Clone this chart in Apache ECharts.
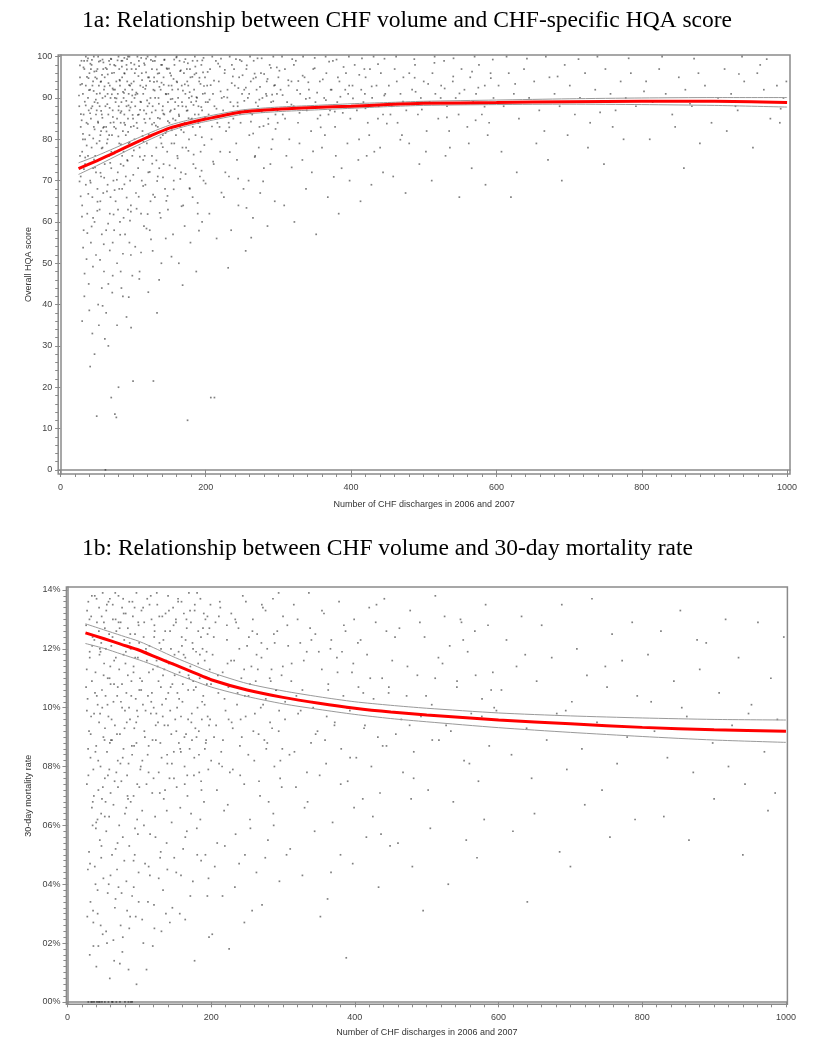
<!DOCTYPE html>
<html>
<head>
<meta charset="utf-8">
<script src="https://cdn.jsdelivr.net/npm/echarts@6/dist/echarts.min.js"></script>
<style>
html,body{margin:0;padding:0;background:#fff;}
#c{width:815px;height:1050px;}
</style>
</head>
<body>
<div id="c"></div>
<script>
// ---------- DATA ----------
const title1 = '1a: Relationship between CHF volume and CHF-specific HQA score';
const title2 = '1b: Relationship between CHF volume and 30-day mortality rate';
const xName = 'Number of CHF discharges in 2006 and 2007';
const yName1 = 'Overall HQA score';
const yName2 = '30-day mortality rate';

const xMajor = [0, 200, 400, 600, 800, 1000];
const xMinorStep = 20;
const y1Major = [0,10,20,30,40,50,60,70,80,90,100];
const y1MinorStep = 2;
const y2Major = [0,2,4,6,8,10,12,14];
const y2MinorStep = 0.2;

// fitted curves (x positions shared)
const fitX = [25,50,75,100,125,150,175,200,250,300,350,400,450,500,600,700,800,900,1000];
const fit1 = [72.9,74.8,76.8,78.9,80.9,82.7,83.9,84.9,86.6,87.3,87.7,88.0,88.4,88.7,88.9,89.1,89.2,89.2,88.9];
const up1  = [74.3,76.0,77.9,79.8,81.7,83.4,84.6,85.5,87.1,87.8,88.2,88.6,88.9,89.2,89.5,89.8,90.0,90.1,90.1];
const lo1  = [71.5,73.6,75.8,78.0,80.1,82.0,83.3,84.3,86.0,86.7,87.1,87.5,87.9,88.2,88.4,88.5,88.4,88.2,87.8];
const fit2 = [12.54,12.35,12.15,11.95,11.7,11.45,11.2,10.95,10.6,10.35,10.15,9.98,9.85,9.75,9.58,9.45,9.33,9.25,9.2];
const up2  = [12.85,12.65,12.45,12.25,11.98,11.7,11.45,11.2,10.82,10.57,10.37,10.2,10.08,9.98,9.82,9.72,9.65,9.6,9.58];
const lo2  = [12.18,12.02,11.82,11.62,11.4,11.15,10.92,10.7,10.38,10.13,9.94,9.77,9.63,9.52,9.32,9.16,9.02,8.9,8.82];

// hospitals: [discharges, HQA score]
const pts1 = [
[26,88],[27,95],[28,71],[28,83],[29,99],[30,64],[30,77],[31,91],[32,86],[32,58],[33,97],[34,74],[34,80],[35,93],[35,69],[36,84],[37,99],[37,62],[38,90],[38,76],[39,45],[39,87],[40,96],[40,81],[41,70],[41,92],[42,55],[42,85],[43,98],[43,78],[44,88],[44,66],[45,94],[45,73],[46,83],[46,100],[47,60],[47,89],[48,76],[48,95],[49,52],[49,86],[50,13],[50,91],[50,79],[51,68],[51,97],[52,84],[52,40],[53,93],[53,75],[54,88],[54,63],[55,99],[55,81],[56,71],[56,94],[57,86],[57,57],[58,90],[58,78],[59,97],[59,67],[60,83],[60,92],[60,48],
[30,36],[33,42],[36,51],[44,33],[47,28],[53,35],[57,44],[41,25],[38,99.6],[52,100],[58,99.3],[35,100],[45,61],[49,72],[55,65],[31,80],[27,76],[42,97],[50,87],[56,82],
[61,95],[61,74],[62,0],[62,88],[63,83],[63,58],[64,97],[64,79],[65,91],[65,69],[66,86],[66,45],[67,99],[67,76],[68,93],[68,62],[69,84],[69,90],[70,17.5],[70,73],[71,96],[71,81],[72,87],[72,55],[73,92],[73,70],[74,98],[74,83],[75,13.5],[75,77],[76,89],[76,65],[77,12.7],[77,94],[78,85],[78,50],[79,91],[79,72],[80,20],[80,87],[81,97],[81,79],[82,60],[82,93],[83,84],[83,74],[84,99],[84,89],[85,68],[85,95],[86,82],[86,42],[87,90],[87,77],[88,96],[88,86],[89,57],[89,92],[90,81],[90,71],[91,98],[91,88],[92,75],[92,94],[93,63],[93,85],[94,91],[94,79],[95,100],[95,87],[96,70],[96,93],[97,83],[97,52],[98,97],[98,89],[99,76],[99,92],[100,21.5],[100,85],
[63,38],[66,30],[72,47],[78,35],[84,44],[91,37],[95,55],[70,99.4],[80,100],[88,99.7],[93,100],[65,80],[75,90],[85,76],[97,64],[69,66],[74,58],[81,68],[87,61],[99,47],
[101,94],[102,80],[103,88],[104,67],[104,97],[105,84],[106,91],[107,73],[108,99],[108,86],[109,78],[110,93],[111,62],[111,89],[112,96],[113,82],[114,75],[114,91],[115,87],[116,98],[117,69],[117,84],[118,93],[119,79],[120,100],[120,88],[121,72],[122,95],[123,85],[123,58],[124,90],[125,81],[126,97],[126,76],[127,88],[128,21.5],[128,92],[129,84],[130,66],[130,99],[131,87],[132,78],[133,94],[134,83],[134,71],[135,90],[136,96],[137,85],[138,61],[138,92],[139,79],[140,98],[141,88],[142,74],[142,95],[143,86],[144,68],[145,91],[146,82],[147,97],[147,77],[148,89],[149,93],[150,84],
[103,54],[109,48],[115,59],[121,43],[127,53],[133,38],[139,50],[145,56],[106,100],[118,99.5],[131,100],[143,99.2],[112,70],[124,65],[136,73],[148,63],[102,90],[116,76],[129,95],[141,81],
[151,96],[152,87],[153,79],[154,92],[155,85],[156,70],[157,98],[158,89],[159,81],[160,94],[161,76],[162,90],[163,86],[164,99],[165,83],[166,72],[167,93],[168,88],[169,64],[170,96],[171,84],[172,91],[173,78],[174,97],[175,12],[175,87],[176,93],[177,80],[178,68],[179,95],[180,89],[181,85],[182,99],[183,74],[184,92],[185,86],[186,81],[187,96],[188,90],[189,62],[190,88],[191,94],[192,83],[193,77],[194,98],[195,87],[196,91],[197,70],[198,85],[199,95],[200,89],
[155,57],[163,50],[171,59],[179,55],[187,48],[195,60],[160,100],[172,99.4],[185,100],[197,99.7],[158,73],[168,78],[182,66],[192,71],[153,93],[177,90],
[202,93],[204,86],[206,97],[207,17.5],[208,80],[210,91],[212,17.5],[212,88],[214,99],[216,84],[218,94],[220,77],[222,90],[224,87],[226,96],[228,82],[230,92],[232,71],[234,89],[236,98],[238,85],[240,93],[242,79],[244,88],[246,95],[248,84],[250,91],[252,68],[254,87],[256,97],[258,90],[260,81],[262,94],[264,86],[266,99],[268,76],[270,92],[272,88],[274,83],[276,96],[278,90],[280,73],[282,87],[284,94],[286,85],[288,98],[290,89],[292,80],[294,93],[296,86],[298,91],[300,95],
[205,62],[215,56],[225,66],[235,58],[245,64],[255,53],[265,61],[275,67],[285,59],[295,65],[209,100],[221,99.5],[233,100],[247,99.2],[261,100],[277,99.6],[293,100],[211,74],[227,72],[243,75],[259,70],[273,78],[289,74],[203,89],[219,83],[239,97],[253,92],[269,95],[283,91],[299,84],
[303,92],[306,86],[309,97],[312,89],[315,80],[318,94],[321,88],[324,99],[327,84],[330,91],[333,75],[336,95],[339,87],[342,92],[345,82],[348,97],[351,89],[354,85],[357,94],[360,78],[363,90],[366,96],[369,86],[372,92],[375,99],[378,83],[381,89],[384,94],[387,73],[390,88],[393,96],[396,91],[399,85],[402,93],[405,98],[408,87],[411,80],[414,92],[417,89],[420,95],[423,84],[426,97],[429,90],[432,77],[435,93],[438,88],[441,96],[444,86],[447,91],
[308,64],[322,60],[338,68],[352,57],[368,66],[383,62],[398,70],[413,65],[428,69],[444,72],[305,100],[319,99.4],[334,100],[350,99.7],[365,100],[380,99.3],[397,100],[415,99.6],[431,100],[446,99.5],[311,76],[329,79],[346,72],[364,81],[379,76],[395,79],[410,75],[425,81],[440,78],[314,93],[343,90],[371,87],[392,92],[419,91],[437,85],
[452,93],[456,88],[460,97],[464,84],[468,91],[472,95],[476,87],[480,79],[484,92],[488,98],[492,86],[496,90],[500,94],[504,82],[508,89],[512,96],[516,91],[520,85],[524,93],[528,99],[532,88],[536,78],[540,94],[544,90],[548,86],[552,97],[556,92],[560,83],[564,95],[568,89],[572,91],[576,98],[580,86],[584,93],[588,81],[592,96],[596,90],
[458,71],[475,67],[494,74],[511,70],[530,76],[549,66],[566,73],[585,69],[462,100],[487,99.4],[515,100],[541,99.6],[570,100],[595,99.3],[470,81],[503,77],[535,82],[562,79],[590,84],
[603,93],[610,88],[617,96],[624,91],[631,85],[638,97],[645,90],[652,94],[659,87],[666,82],[673,95],[680,91],[687,88],[694,98],[701,93],[708,86],[715,90],[722,96],[729,84],[736,92],[743,89],[750,97],[757,91],[764,87],[771,94],[778,90],[785,96],[792,88],
[607,77],[628,72],[655,79],[671,75],[698,81],[726,78],[748,74],[775,80],[614,100],[642,99.5],[668,100],[713,99.4],[739,100],[782,99.6],[620,66],[690,70],[760,83],
[806,94],[815,89],[824,97],[833,91],[842,86],[851,95],[860,92],[869,88],[878,96],[887,93],[896,84],[905,90],[914,97],[923,91],[932,87],[941,94],[950,89],[959,96],[968,92],[977,85],[986,93],[995,90],
[811,80],[846,83],[880,79],[917,82],[953,78],[990,84],[828,100],[872,99.5],[938,100],[972,99.4],[858,73],[929,88],[963,98],[999,94]
];
const pts1b = [
[27.5,93.2],[29.3,84.6],[31.8,97.4],[33.6,89.1],[36.2,78.5],[38.7,94.8],[40.9,86.3],[43.4,99.2],[45.8,91.7],[47.1,82.4],[49.6,96.5],[51.3,88.8],[53.9,79.6],[55.4,93.9],[57.8,85.2],[59.2,98.6],[61.7,90.4],[63.5,81.9],[65.2,95.7],[67.8,87.6],[69.4,99.5],[71.9,92.3],[73.3,84.1],[75.7,97.8],[77.2,89.9],[79.8,80.7],[81.4,94.4],[83.9,86.8],[85.3,99.0],[87.6,91.2],[89.1,83.5],[91.5,96.9],[93.8,88.2],[95.2,79.3],[97.7,93.5],[99.4,85.9],[101.8,98.1],[103.3,90.8],[105.9,82.7],[107.4,95.3],[109.7,87.1],[111.2,99.7],[113.8,92.6],[115.5,84.9],[117.9,96.2],[119.3,89.4],[121.6,81.2],[123.2,94.1],[125.8,86.5],[127.3,98.9],[129.7,91.8],[131.4,83.3],[133.9,95.9],[135.5,88.6],[137.8,80.4],[139.2,93.7],[141.7,86.2],[143.3,99.3],[145.6,90.9],[147.9,84.4],[149.4,97.1],[151.8,89.7],[153.3,82.2],[155.7,94.6],[157.2,87.3],[159.6,99.8],[161.9,92.1],[163.4,85.6],[165.8,96.7],[167.3,89.0],[169.7,81.7],[171.2,93.3],[173.8,86.9],[175.4,98.4],[177.9,91.4],[179.3,84.8],[181.6,95.1],[183.2,88.3],[185.7,97.6],[187.3,90.2],[189.8,83.9],[191.4,94.9],[193.9,87.8],[195.3,99.1],[197.6,92.9],[199.2,85.4],
[202.7,96.3],[205.3,89.6],[208.6,83.1],[211.4,94.2],[214.8,87.4],[217.1,98.3],[220.5,91.6],[223.9,85.7],[226.3,96.8],[229.7,90.1],[232.4,82.9],[235.8,93.6],[238.2,88.0],[241.6,99.4],[244.9,92.4],[247.3,86.1],[250.7,95.5],[253.1,89.3],[256.5,97.9],[259.8,91.0],[262.2,84.3],[265.6,94.7],[268.9,88.9],[271.3,99.6],[274.7,92.7],[277.1,86.6],[280.4,95.8],[283.8,90.5],[286.2,83.7],[289.6,97.3],[292.9,89.2],[295.3,93.1],[298.7,87.0],
[301.4,96.6],[305.8,90.7],[309.2,85.0],[313.6,94.3],[317.9,88.4],[321.3,98.0],[325.7,91.9],[329.1,86.4],[333.4,95.4],[337.8,89.8],[341.2,93.8],[345.6,87.7],[349.9,97.2],[353.3,91.3],[357.7,85.8],[361.1,94.5],[365.4,89.5],[369.8,98.8],[373.2,92.0],[377.6,86.7],[381.9,95.0],[385.3,90.3],[389.7,97.5],[393.1,88.1],[397.4,93.0],
[402.6,89.9],[411.3,95.6],[419.8,87.5],[428.4,92.8],[437.1,98.2],[445.7,90.6],[454.2,86.0],[462.9,94.0],[471.5,89.1],[480.1,96.0],[488.8,91.5],[497.4,87.2],[506.1,93.4],[514.7,98.5],[523.3,90.0],[531.9,85.3],[540.6,95.2],[549.2,91.1],[557.8,88.7],[566.5,96.4],[575.1,92.5],[583.7,87.9],[592.3,94.8],
[27.9,66.2],[32.4,72.8],[37.1,57.3],[41.6,69.5],[46.3,75.1],[50.8,62.7],[55.2,71.9],[59.7,54.6],[64.1,67.4],[68.6,74.3],[73.2,61.8],[77.7,70.2],[82.3,56.9],[86.8,73.6],[91.2,65.9],[95.8,60.3],[100.3,71.4],[104.9,63.2],[109.4,75.8],[113.9,68.7],[118.5,58.4],[122.9,72.1],[127.6,66.6],[132.1,74.9],[136.7,62.2],[141.2,70.8],[145.8,65.1],[150.3,73.7],[155.9,67.9],[161.4,75.4],[166.8,63.8],[172.3,71.6],[177.8,68.2],[183.4,76.3],[188.9,64.6],[194.3,72.4],[199.8,69.3],[210.2,74.6],[221.7,67.1],[233.1,76.9],[244.6,70.5],[256.1,63.4],[267.5,75.7],[279.0,69.8],[290.4,77.6],[318.3,73.2],[347.7,77.1],[376.2,70.9],[421.5,76.0],[467.8,79.9],
[33.3,47.5],[39.8,38.6],[54.6,50.8],[61.2,31.7],[71.4,42.9],[86.1,52.3],[97.3,34.4],[108.6,46.2],[124.7,55.8],[152.9,51.6],[168.2,44.7],[190.7,57.9],[230.9,48.9],[262.6,56.2]
];
const pts1c = [
[25.6,90.6],[26.9,97.9],[28.2,86.1],[29.8,93.4],[31.1,81.3],[32.7,99.0],[34.9,88.2],[36.6,95.1],[37.9,83.7],[39.4,91.9],[41.3,98.3],[42.5,87.5],[44.1,93.0],[45.2,80.2],[46.7,96.4],[48.8,89.6],[50.2,94.7],[51.7,84.3],[52.9,98.8],[54.4,91.1],[56.1,86.9],[57.3,95.6],[58.9,82.8],[60.8,92.8],[62.3,97.3],[64.6,88.5],[66.2,93.6],[67.1,81.0],[68.3,98.1],[70.8,90.9],[72.2,85.4],[73.9,96.1],[75.1,92.0],[76.3,82.6],[78.7,99.1],[80.3,88.0],[81.9,94.2],[82.8,86.4],[84.6,97.6],[86.2,91.5],[87.9,84.0],[88.4,95.9],[90.7,89.3],[91.8,99.4],[93.2,81.8],[94.6,93.1],[96.4,87.7],[97.2,98.5],[98.9,90.6],[100.9,83.2],[102.4,96.0],[104.5,91.3],[106.6,85.9],[108.3,97.7],[110.1,89.1],[112.4,94.3],[113.1,80.8],[115.2,98.4],[116.8,92.2],[118.2,86.2],[120.6,95.0],[122.3,88.7],[124.6,99.2],[126.1,83.6],[128.8,93.9],[130.4,90.0],[132.7,96.9],[134.2,85.2],[136.3,92.7],[138.6,98.0],[140.4,87.0],[142.2,93.2],[144.7,81.5],[146.3,97.2],[148.5,91.0],[150.8,86.7],[152.4,95.4],[154.2,89.8],[156.6,99.3],[158.4,84.6],[160.7,93.8],[162.3,88.1],[164.8,96.5],[166.2,82.3],[168.6,91.8],[170.3,98.7],[172.9,87.9],[174.6,94.0],[176.4,85.1],[178.3,97.0],[180.7,90.4],[182.2,83.0],[184.6,95.7],[186.9,89.2],[188.4,99.0],[190.2,86.0],[192.8,93.4],[194.6,80.5],[196.3,96.2],[198.9,91.1],
[206.8,93.1],[213.2,85.5],[219.4,97.6],[225.1,90.3],[231.6,84.0],[237.3,95.2],[243.8,88.9],[249.4,98.9],[255.2,92.5],[261.7,86.3],[267.3,95.9],[273.8,89.6],[279.5,83.2],[285.1,94.6],[291.4,90.8],[297.8,97.4],
[265.3,81.4],[296.1,82.5],[327.4,94.1],[358.2,82.9],[388.6,86.4],[418.3,97.0],[449.2,83.8],[487.5,94.9],[528.8,92.3],[571.4,84.6],[625.8,93.4],[684.2,95.2],[742.7,86.5],[803.1,91.6],[866.4,88.6],[933.7,95.8],[991.2,87.4],
[26.4,69.8],[29.7,61.3],[34.2,75.6],[38.4,66.8],[43.0,58.9],[47.7,73.2],[51.1,64.9],[56.8,77.8],[60.3,70.7],[65.7,59.6],[70.1,77.0],[74.6,67.7],[79.3,63.0],[83.4,78.8],[88.1,69.1],[92.5,74.8],[97.0,62.5],[101.1,77.3],[107.8,66.1],[114.4,79.4],[120.1,61.9],[126.4,74.1],[133.2,69.9],[140.9,78.1],[147.4,66.3],[156.7,79.0],[165.0,70.4],[176.2,77.2],[186.1,73.0],[198.1,78.6],
[31.3,53.8],[44.8,49.2],[58.1,39.7],[68.0,53.1],[83.0,48.0],[94.1,41.8],[111.0,52.6],[135.9,46.0]
];

// hospitals: [discharges, 30-day mortality %]
const pts2 = [
[26,12.8],[27,7.4],[28,10.3],[29,13.6],[30,5.1],[30,9.2],[31,11.7],[32,3.4],[32,8.3],[33,13.1],[34,6.6],[34,10.9],[35,12.4],[36,2.7],[36,7.9],[37,9.8],[38,13.8],[38,4.6],[39,11.2],[40,8.7],[40,6.1],[41,12.9],[42,10.1],[42,3.0],[43,7.2],[44,13.4],[44,9.5],[45,5.5],[46,11.9],[46,8.0],[47,12.2],[48,6.9],[48,10.6],[49,2.3],[49,13.9],[50,9.0],[50,4.2],[51,11.5],[52,7.6],[52,12.7],[53,10.4],[54,5.8],[54,13.3],[55,8.5],[56,3.7],[56,11.0],[57,9.7],[58,6.3],[58,12.5],[59,13.7],[60,7.1],[60,10.8],
[29,0],[33,0],[37,0],[41,0],[45,0],[48,0],[52,0],[57,0],[31,1.6],[43,1.9],[55,2.0],[39,4.0],[47,4.9],[35,6.0],[53,6.8],[27,9.9],[45,12.0],[59,8.8],
[61,12.1],[62,8.9],[62,5.0],[63,13.5],[64,10.2],[64,6.7],[65,11.6],[66,3.2],[66,9.4],[67,13.0],[68,7.8],[68,12.6],[69,4.5],[70,10.7],[70,8.2],[71,13.8],[72,6.0],[72,11.3],[73,9.1],[74,12.9],[74,2.6],[75,7.5],[76,10.0],[76,13.4],[77,5.6],[78,11.8],[78,8.6],[79,12.3],[80,6.4],[80,9.9],[81,13.2],[82,4.1],[82,10.5],[83,7.7],[84,12.7],[84,11.1],[85,8.1],[86,5.3],[86,13.6],[87,9.6],[88,12.0],[88,6.8],[89,10.9],[90,3.6],[90,8.4],[91,13.1],[92,11.4],[92,7.0],[93,9.3],[94,12.5],[94,5.9],[95,10.3],[96,13.9],[96,8.8],[97,6.2],[98,11.7],[98,9.7],[99,12.8],[100,7.3],[100,10.6],
[63,0],[68,0],[73,0],[80,0],[88,0],[90,0],[65,1.4],[77,2.2],[85,1.1],[95,2.9],[71,3.9],[83,3.1],[99,4.4],[67,5.2],[92,4.8],
[101,11.0],[102,8.0],[103,13.3],[104,6.5],[105,10.1],[106,12.4],[107,9.2],[108,4.7],[109,11.9],[110,7.4],[111,13.7],[112,10.4],[113,8.7],[114,12.1],[115,5.7],[116,9.8],[117,13.0],[118,7.1],[119,11.3],[120,10.0],[121,12.8],[122,6.3],[123,8.9],[124,11.6],[125,13.5],[126,9.5],[127,7.8],[128,12.2],[129,4.9],[130,10.7],[131,8.3],[132,13.1],[133,11.1],[134,6.9],[135,9.4],[136,12.6],[137,10.3],[138,5.4],[139,8.1],[140,13.8],[141,11.5],[142,7.6],[143,9.9],[144,12.0],[145,6.1],[146,10.8],[147,13.4],[148,8.5],[149,11.8],[150,9.6],
[104,2.8],[112,3.4],[121,2.5],[133,3.8],[146,3.2],[110,1.1],[127,4.2],[139,4.5],
[151,12.9],[152,7.3],[153,10.5],[154,13.6],[155,8.8],[156,11.2],[157,6.6],[158,9.7],[159,12.4],[160,10.2],[161,5.2],[162,13.2],[163,8.0],[164,11.7],[165,9.1],[166,12.7],[167,7.0],[168,10.6],[169,13.9],[170,8.6],[171,11.4],[172,6.4],[173,9.8],[174,12.2],[175,10.9],[176,7.7],[177,13.3],[178,9.3],[179,11.9],[180,5.9],[181,10.0],[182,12.6],[183,8.4],[184,11.0],[185,13.7],[186,7.5],[187,9.6],[188,12.0],[189,10.4],[190,6.8],[191,11.6],[192,13.0],[193,8.9],[194,10.8],[195,12.5],[196,7.9],[197,9.4],[198,11.3],[199,13.5],[200,8.2],
[158,4.3],[171,3.6],[186,4.8],[197,2.2],[164,5.6],[192,5.0],
[202,11.8],[204,9.0],[206,12.9],[208,7.2],[210,10.5],[212,13.6],[214,8.5],[216,11.2],[218,6.5],[220,9.9],[222,12.3],[224,10.7],[226,7.8],[228,13.2],[230,9.3],[232,11.6],[234,5.7],[236,10.1],[238,12.7],[240,8.7],[242,11.0],[244,13.8],[246,7.4],[248,9.7],[250,12.1],[252,10.4],[254,6.2],[256,11.4],[258,13.0],[260,8.2],[262,10.9],[264,12.5],[266,9.1],[268,7.0],[270,11.7],[272,13.4],[274,8.9],[276,10.3],[278,12.0],[280,6.8],[282,9.5],[284,11.3],[286,13.7],[288,8.0],[290,10.6],[292,12.6],[294,9.2],[296,7.6],[298,11.1],[300,13.1],
[205,4.6],[219,5.3],[233,3.9],[247,5.0],[263,4.4],[279,5.5],[295,4.1],[225,1.8],[257,3.1],[287,6.0],[211,8.1],[241,9.6],[269,10.0],[299,8.6],
[303,10.2],[306,12.8],[309,8.4],[312,11.5],[315,13.5],[318,7.3],[321,9.8],[324,12.2],[327,10.6],[330,6.6],[333,11.9],[336,13.9],[339,8.8],[342,10.0],[345,12.5],[348,9.2],[351,7.7],[354,11.3],[357,13.2],[360,8.1],[363,10.8],[366,12.0],[369,6.1],[372,9.5],[375,11.7],[378,13.6],[381,8.6],[384,10.4],[387,12.6],[390,7.5],[393,9.9],[396,11.2],[399,13.0],[402,8.3],[405,10.7],[408,12.3],[411,6.9],[414,9.4],[417,11.8],[420,13.4],[423,8.0],[426,10.3],[429,12.9],[432,9.0],[435,7.1],[438,11.0],[441,13.7],[444,8.7],[447,10.5],
[310,5.2],[327,4.3],[344,5.8],[362,3.5],[380,5.0],[397,4.7],[416,5.6],[433,3.9],[449,5.3],[352,2.9],[425,6.3],[388,1.5],
[452,11.6],[457,9.1],[462,12.7],[467,7.8],[472,10.4],[477,13.3],[482,8.5],[487,11.1],[492,9.7],[497,12.4],[502,7.2],[507,10.1],[512,13.8],[517,8.9],[522,11.5],[527,9.4],[532,12.1],[537,6.8],[542,10.7],[547,13.0],[552,8.2],[557,11.9],[562,9.8],[567,12.6],[572,7.5],[577,10.3],[582,13.5],[587,8.7],[592,11.2],[597,9.9],
[460,5.4],[480,4.6],[505,5.9],[530,4.0],[555,5.5],[580,6.2],[495,3.1],[570,4.9],
[604,10.6],[611,12.3],[618,8.4],[625,11.4],[632,13.1],[639,9.3],[646,7.6],[653,10.9],[660,12.8],[667,8.9],[674,11.7],[681,9.8],[688,13.5],[695,7.9],[702,10.2],[709,12.0],[716,8.6],[723,11.1],[730,13.7],[737,9.5],[744,7.2],[751,10.7],[758,12.5],[765,8.1],[772,11.6],[779,9.0],[786,12.9],[793,10.4],
[620,5.8],[650,6.4],[685,5.1],[720,6.7],[755,5.6],[790,6.2],[640,3.4],[700,4.6],
[808,11.8],[817,9.2],[826,12.6],[835,8.3],[844,10.9],[853,13.3],[862,9.7],[871,7.8],[880,11.3],[889,12.2],[898,8.8],[907,10.5],[916,13.0],[925,9.4],[934,11.7],[943,7.4],[952,10.1],[961,12.9],[970,8.5],[979,11.0],[988,9.6],[997,12.4],
[830,6.3],[865,5.5],[900,6.9],[940,5.0],[975,6.5],[855,10.0],[920,8.0],[985,7.1]
];
const pts2b = [
[26.8,11.3],[28.7,8.6],[30.6,13.0],[32.9,9.7],[34.4,12.1],[36.7,7.0],[38.3,10.5],[40.5,13.7],[42.8,8.2],[44.6,11.8],[46.9,6.4],[48.4,10.0],[50.7,12.9],[52.2,9.3],[54.8,13.5],[56.3,7.7],[58.6,11.0],[60.4,8.9],[62.7,12.4],[64.8,10.8],[66.5,13.9],[68.9,9.1],[70.3,7.3],[72.6,12.7],[74.4,10.2],[76.9,8.3],[78.2,13.2],[80.7,11.5],[82.5,9.5],[84.3,6.9],[86.6,12.2],[88.8,10.4],[90.4,13.6],[92.7,8.7],[94.3,11.7],[96.8,9.9],[98.5,12.9],[101.4,7.9],[103.8,10.9],[105.3,13.4],[107.7,9.0],[109.2,12.0],[111.6,8.4],[113.4,11.2],[115.9,13.8],[117.5,10.5],[119.8,7.6],[121.3,12.6],[123.7,9.8],[125.4,11.4],[127.8,13.1],[129.3,8.8],[131.7,10.1],[133.5,12.3],[135.8,7.2],[137.4,11.6],[139.9,9.4],[141.2,13.3],[143.6,10.7],[145.3,8.1],[147.7,12.8],[149.2,11.1],[151.5,9.2],[153.9,13.7],[155.4,10.3],[157.8,8.5],[159.3,12.1],[161.7,11.8],[163.2,7.4],[165.6,13.0],[167.9,9.6],[169.4,11.0],[171.8,12.9],[173.3,8.9],[175.7,10.6],[177.2,13.5],[179.6,9.0],[181.9,11.5],[183.4,7.8],[185.8,12.4],[187.4,10.2],[189.7,13.2],[191.2,8.6],[193.6,11.9],[195.1,9.7],[197.5,12.7],[199.8,10.8],
[203.6,12.4],[206.9,9.4],[209.3,11.1],[212.7,13.4],[215.2,8.0],[218.6,10.3],[221.9,12.8],[224.3,9.6],[227.7,11.6],[230.1,7.9],[233.5,13.0],[236.8,10.5],[239.2,12.0],[242.6,9.0],[245.9,11.3],[248.3,13.6],[251.7,8.4],[254.1,10.8],[257.4,12.6],[260.8,9.8],[263.2,11.8],[266.6,7.5],[269.9,12.2],[272.3,10.1],[275.7,13.3],[278.1,8.8],[281.5,11.0],[284.8,9.3],[287.2,12.5],[290.6,10.6],[293.9,13.9],[296.3,8.2],[299.7,11.4],
[302.8,9.6],[307.2,12.1],[311.5,10.9],[315.9,8.5],[320.3,13.0],[324.6,9.9],[328.9,11.6],[333.3,7.8],[337.7,12.7],[341.1,10.2],[345.4,9.1],[349.8,11.9],[354.2,13.3],[358.5,8.9],[362.9,10.6],[367.2,12.3],[371.6,9.4],[375.9,11.2],[380.3,7.4],[384.7,12.8],[389.1,10.0],[393.4,8.3],[397.8,11.5],
[404.2,12.2],[412.8,9.3],[421.4,11.0],[430.1,13.5],[438.7,8.7],[447.3,10.7],[455.9,12.4],[464.6,9.6],[473.2,11.4],[481.8,7.6],[490.5,12.9],[499.1,10.4],[507.7,8.9],[516.3,11.7],[524.9,13.1],[533.6,9.2],[542.2,10.9],[550.8,12.3],[559.4,8.1],[568.1,11.1],[576.7,9.7],[585.3,12.8],[593.9,10.0],
[28.4,4.5],[35.6,3.1],[39.5,5.9],[46.2,2.6],[51.9,6.3],[57.4,4.0],[63.9,2.1],[69.7,5.4],[75.3,3.7],[81.8,6.6],[87.2,2.9],[93.6,5.0],[99.1,3.4],[106.4,6.0],[114.7,4.3],[122.5,5.6],[130.8,2.4],[138.2,6.5],[148.6,4.9],[156.3,3.0],[166.1,5.8],[174.5,4.1],[184.9,6.2],[194.7,3.6],[208.4,5.4],[223.1,6.7],[238.9,4.7],[254.6,5.9],[270.8,3.3],[286.5,6.4],[304.9,5.0],[334.2,6.8],[366.8,4.4],[398.9,6.6],[436.4,5.7],[478.3,6.9],
[40.2,1.2],[58.9,0.8],[76.4,1.7],[96.1,0.6],[118.7,1.9],[142.5,2.7],[176.9,1.4],[201.5,2.3]
];
const pts2c = [
[25.9,10.7],[27.3,13.3],[29.1,7.7],[30.9,11.9],[32.3,9.1],[33.9,13.8],[35.2,6.8],[37.4,12.3],[38.9,8.5],[40.8,10.4],[41.8,6.2],[43.7,12.6],[45.4,9.8],[47.6,13.1],[49.2,7.3],[50.3,11.1],[51.6,8.9],[53.4,12.0],[55.7,10.1],[57.1,13.6],[58.2,7.9],[59.6,11.4],[61.4,9.6],[63.2,13.0],[65.6,7.5],[67.3,11.7],[69.2,10.4],[71.1,12.9],[73.7,8.1],[75.9,10.8],[77.5,13.7],[79.4,9.3],[81.2,11.9],[83.6,7.0],[85.7,10.0],[87.4,12.5],[89.6,8.7],[91.9,11.2],[93.4,13.4],[95.7,9.5],[97.1,7.4],[99.8,12.2],[102.6,10.6],[104.2,8.2],[106.8,12.9],[108.7,9.9],[110.5,11.6],[112.9,7.8],[114.2,13.5],[116.6,10.2],[118.4,8.9],[120.7,12.4],[122.8,9.4],[124.3,13.9],[126.7,10.9],[128.5,7.1],[130.2,12.0],[132.6,9.7],[134.8,11.3],[136.5,13.2],[138.7,8.4],[140.3,10.5],[142.8,12.6],[144.5,9.1],[146.6,11.5],[148.2,7.6],[150.9,13.0],[152.6,10.0],[154.7,11.9],[156.9,8.6],[158.7,13.6],[160.5,10.8],[162.8,9.0],[164.4,12.3],[166.7,7.7],[168.5,11.1],[170.6,13.3],[172.4,9.5],[174.8,12.0],[176.5,8.3],[178.7,10.7],[180.4,13.9],[182.8,9.2],[184.3,11.8],[186.5,7.2],[188.6,12.7],[190.9,10.1],[192.5,8.8],[194.8,13.1],[196.7,11.0],[198.5,9.6],
[204.4,10.9],[210.7,13.1],[216.4,8.9],[222.8,11.5],[228.5,9.5],[234.7,12.9],[240.4,7.7],[246.8,10.4],[252.5,12.4],[258.7,9.2],[264.9,11.3],[270.5,13.5],[276.7,8.6],[282.9,10.9],[288.4,12.2],[294.6,9.9],[298.2,7.3],
[318.6,10.4],[339.5,12.3],[360.8,9.7],[382.1,11.9],[411.7,10.5],[443.9,12.6],[476.2,9.4],[511.8,11.0],[548.4,12.9],[589.7,10.6],[637.1,11.8],[693.5,9.9],[748.6,11.4],[812.4,10.2],[876.3,12.3],[947.9,9.8],
[27.6,2.9],[31.4,4.7],[36.1,1.9],[41.9,3.8],[47.3,5.3],[53.8,2.4],[59.9,4.3],[66.9,3.5],[72.9,1.3],[79.1,4.8],[86.0,2.5],[92.2,3.9],[98.0,5.7],[105.6,2.0],[113.0,4.6],[120.4,3.3],[129.8,5.1],[137.0,3.0],[151.4,4.4],[163.9,2.8],[180.6,5.0],[196.3,4.2],[215.8,3.6],[246.2,2.7],[275.3,4.9],
[34.7,0],[43.3,0],[61.8,0],[84.8,0]
];

// ---------- CHART ----------
const AX = '#8a8a8a';
const LBL = '#444';
const SANS = 'Liberation Sans, Arial, sans-serif';
const SERIF = 'Liberation Serif, Times New Roman, serif';
const pair = (xs, ys) => xs.map((x, i) => [x, ys[i]]);
const plainFmt = v => String(v);

// helper: evenly spaced category positions spanning [min,max] used only to place minor ticks
function steps(min, max, step) {
  const n = Math.round((max - min) / step);
  const out = [];
  for (let i = 0; i <= n; i++) out.push(+(min + i * step).toFixed(4));
  return out;
}
const isMult = (v, m) => Math.abs(v / m - Math.round(v / m)) < 1e-6;

function majorX(grid, min, max, gap) {
  return {
    type: 'value', gridIndex: grid, position: 'bottom', min: min, max: max,
    splitLine: {show: false},
    axisLine: {show: true, lineStyle: {color: AX, width: 1.5}},
    axisTick: {show: true, length: 5, customValues: xMajor, lineStyle: {color: AX, width: 1}},
    axisLabel: {show: true, customValues: xMajor, fontSize: 9, color: LBL, fontFamily: SANS, margin: 9, formatter: plainFmt},
    name: xName, nameLocation: 'middle', nameGap: gap,
    nameTextStyle: {fontSize: 9, color: '#333', fontFamily: SANS}
  };
}
function minorCat(grid, pos, min, max, step, every) {
  return {
    type: 'category', gridIndex: grid, position: pos, boundaryGap: false,
    data: steps(min, max, step).map(String),
    splitLine: {show: false},
    axisLine: {show: false},
    axisTick: {show: true, length: 3, interval: (i, v) => isMult(+v, every), lineStyle: {color: AX, width: 1}},
    axisLabel: {show: false}
  };
}
function majorY(grid, min, max, ticks, name, gap, fmt) {
  return {
    type: 'value', gridIndex: grid, position: 'left', min: min, max: max,
    splitLine: {show: false},
    axisLine: {show: true, lineStyle: {color: AX, width: 1.5}},
    axisTick: {show: true, length: 5, customValues: ticks, lineStyle: {color: AX, width: 1}},
    axisLabel: {show: true, customValues: ticks, fontSize: 9, color: LBL, fontFamily: SANS, margin: 6, formatter: fmt || plainFmt},
    name: name, nameLocation: 'middle', nameGap: gap, nameMoveOverlap: false,
    nameTextStyle: {fontSize: 9, color: '#333', fontFamily: SANS}
  };
}
const pctFmt = v => (v < 10 ? '0' : '') + Math.round(v) + '%';

function scatter(xi, yi, data) {
  return {type: 'scatter', xAxisIndex: xi, yAxisIndex: yi, data: data, symbol: 'rect', symbolSize: 1.7,
    itemStyle: {color: 'rgba(20,20,20,0.68)'}, silent: true, z: 2, animation: false};
}
function line(xi, yi, data, color, width, z) {
  return {type: 'line', xAxisIndex: xi, yAxisIndex: yi, data: data, showSymbol: false, symbol: 'none', smooth: 0.25,
    lineStyle: {color: color, width: width}, silent: true, z: z, animation: false};
}

const chart = echarts.init(document.getElementById('c'), null, {renderer: 'canvas'});
chart.setOption({
  backgroundColor: '#fff',
  animation: false,
  title: [
    {text: title1, left: 82, top: 9, padding: 0, textStyle: {fontFamily: SERIF, fontSize: 23.5, fontWeight: 'normal', color: '#000'}},
    {text: title2, left: 82, top: 537, padding: 0, textStyle: {fontFamily: SERIF, fontSize: 23.5, fontWeight: 'normal', color: '#000'}}
  ],
  grid: [
    {left: 58.2, top: 55, width: 731.8, height: 419, show: true, borderColor: AX, borderWidth: 1.5, backgroundColor: 'transparent'},
    {left: 66.4, top: 587, width: 721, height: 417.3, show: true, borderColor: AX, borderWidth: 1.5, backgroundColor: 'transparent'}
  ],
  xAxis: [
    majorX(0, -3, 1004, 26), minorCat(0, 'bottom', -3, 1004, 1, xMinorStep),
    majorX(1, -1.5, 1002, 24), minorCat(1, 'bottom', -1.5, 1002, 0.5, xMinorStep)
  ],
  yAxis: [
    majorY(0, -1, 100.4, y1Major, yName1, 25), minorCat(0, 'left', -1, 100.4, 0.2, y1MinorStep),
    majorY(1, -0.08, 14.1, y2Major, yName2, 33, pctFmt), minorCat(1, 'left', -0.08, 14.1, 0.02, y2MinorStep)
  ],
  series: [
    scatter(0, 0, pts1),
    scatter(0, 0, pts1b),
    scatter(0, 0, pts1c),
    line(0, 0, pair(fitX, up1), '#9a9a9a', 1, 3),
    line(0, 0, pair(fitX, lo1), '#9a9a9a', 1, 3),
    line(0, 0, pair(fitX, fit1), '#ff0000', 3, 4),
    scatter(2, 2, pts2),
    scatter(2, 2, pts2b),
    scatter(2, 2, pts2c),
    line(2, 2, pair(fitX, up2), '#9a9a9a', 1, 3),
    line(2, 2, pair(fitX, lo2), '#9a9a9a', 1, 3),
    line(2, 2, pair(fitX, fit2), '#ff0000', 3, 4)
  ]
});
</script>
</body>
</html>
